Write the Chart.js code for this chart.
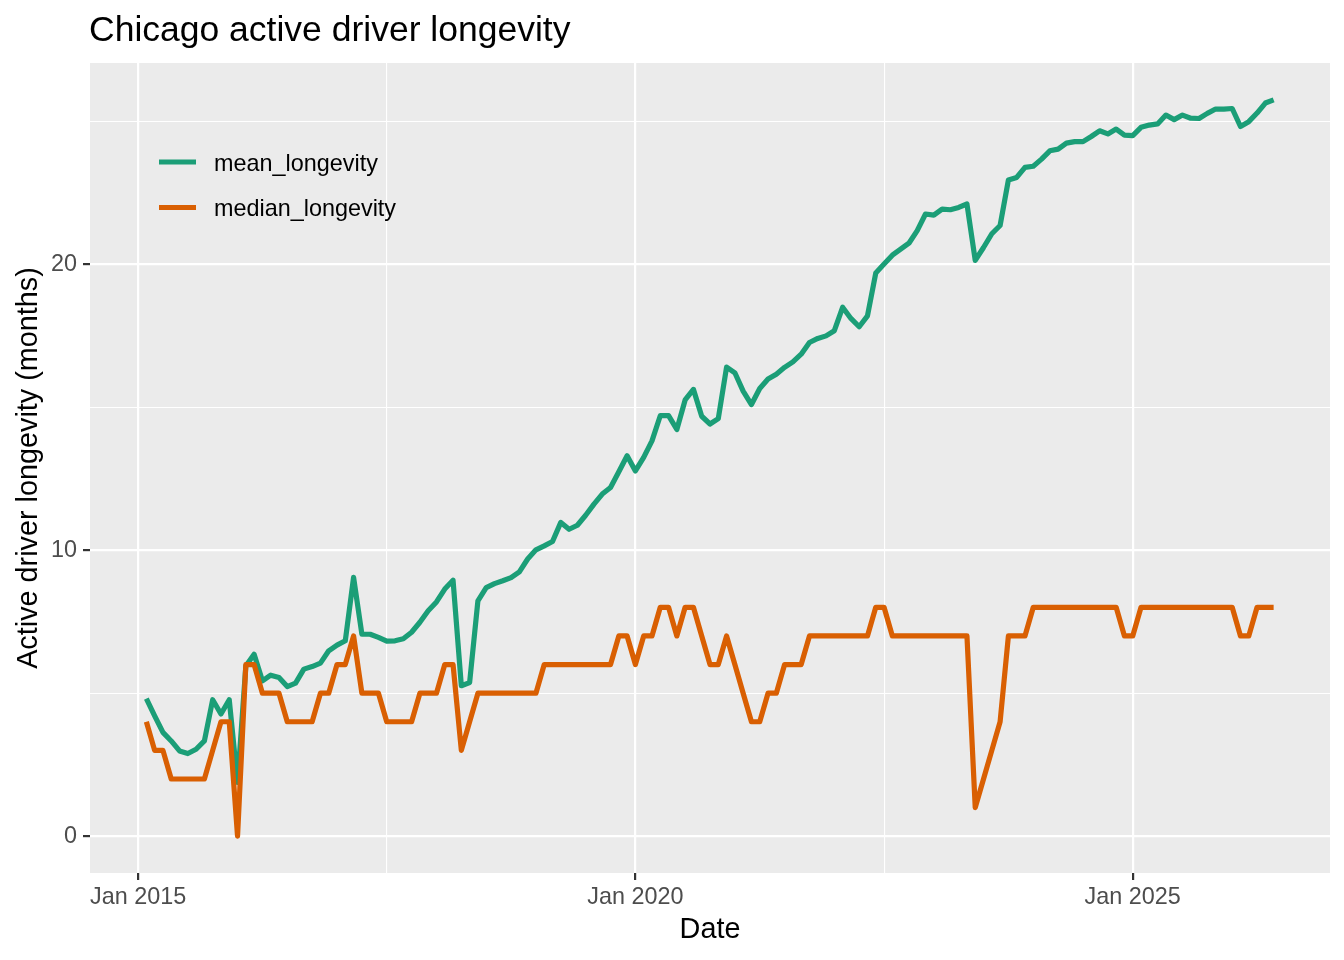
<!DOCTYPE html>
<html><head><meta charset="utf-8">
<script src="https://cdn.jsdelivr.net/npm/chart.js@4.4.1/dist/chart.umd.min.js"></script>
<style>html,body{margin:0;padding:0;background:#fff}#wrap{width:1344px;height:960px}</style>
</head><body><div id="wrap"><canvas id="c" width="1344" height="960"></canvas></div>
<script>
const titleText = 'Chicago active driver longevity';
const xTitle = 'Date';
const yTitle = 'Active driver longevity (months)';
const seriesNames = ['mean_longevity', 'median_longevity'];
const seriesColors = ['#1B9E77', '#D95F02'];
// first observation is Feb 2015 (1 month after Jan 2015), monthly afterwards
const firstMonthOffset = 1;
const meanLongevity = [
  4.81, 4.21, 3.63, 3.33, 2.98, 2.89, 3.04, 3.33, 4.77, 4.27, 4.77, 1.88,
  5.95, 6.36, 5.43, 5.63, 5.55, 5.23, 5.35, 5.84, 5.93, 6.05, 6.48, 6.68,
  6.83, 9.05, 7.06, 7.06, 6.95, 6.82, 6.83, 6.90, 7.13, 7.48, 7.88, 8.19,
  8.64, 8.95, 5.26, 5.37, 8.23, 8.69, 8.83, 8.93, 9.04, 9.24, 9.69, 10.01,
  10.15, 10.30, 10.97, 10.73, 10.87, 11.22, 11.61, 11.96, 12.19, 12.74, 13.30, 12.77,
  13.24, 13.82, 14.70, 14.70, 14.22, 15.25, 15.62, 14.68, 14.41, 14.60, 16.40, 16.20,
  15.56, 15.09, 15.65, 15.98, 16.15, 16.39, 16.58, 16.85, 17.26, 17.40, 17.49, 17.67,
  18.49, 18.10, 17.81, 18.19, 19.69, 20.00, 20.31, 20.52, 20.73, 21.17, 21.75, 21.71,
  21.92, 21.90, 21.98, 22.10, 20.13, 20.58, 21.06, 21.35, 22.94, 23.03, 23.38, 23.42,
  23.67, 23.96, 24.02, 24.23, 24.28, 24.28, 24.46, 24.66, 24.55, 24.72, 24.51, 24.49,
  24.78, 24.86, 24.90, 25.21, 25.05, 25.21, 25.10, 25.09, 25.27, 25.42, 25.42, 25.44,
  24.81, 24.98, 25.28, 25.63, 25.74
];
const medianLongevity = [
  4, 3, 3, 2, 2, 2, 2, 2, 3, 4, 4, 0,
  6, 6, 5, 5, 5, 4, 4, 4, 4, 5, 5, 6,
  6, 7, 5, 5, 5, 4, 4, 4, 4, 5, 5, 5,
  6, 6, 3, 4, 5, 5, 5, 5, 5, 5, 5, 5,
  6, 6, 6, 6, 6, 6, 6, 6, 6, 7, 7, 6,
  7, 7, 8, 8, 7, 8, 8, 7, 6, 6, 7, 6,
  5, 4, 4, 5, 5, 6, 6, 6, 7, 7, 7, 7,
  7, 7, 7, 7, 8, 8, 7, 7, 7, 7, 7, 7,
  7, 7, 7, 7, 1, 2, 3, 4, 7, 7, 7, 8,
  8, 8, 8, 8, 8, 8, 8, 8, 8, 8, 7, 7,
  8, 8, 8, 8, 8, 8, 8, 8, 8, 8, 8, 8,
  7, 7, 8, 8, 8
];
const xTickMonths = [0, 30, 60, 90, 120];
const xTickLabels = { 0: 'Jan 2015', 60: 'Jan 2020', 120: 'Jan 2025' };
const yTickValues = [0, 5, 10, 15, 20, 25];
const yTickLabels = { 0: '0', 10: '10', 20: '20' };

const FONT = '"Liberation Sans", Arial, sans-serif';
Chart.defaults.font.family = FONT;

function toPoints(arr) {
  return arr.map((v, i) => ({ x: firstMonthOffset + i, y: v }));
}

const panelPlugin = {
  id: 'panel',
  beforeDraw(chart) {
    const { ctx, chartArea: a } = chart;
    ctx.save();
    ctx.fillStyle = '#FFFFFF';
    ctx.fillRect(0, 0, chart.width, chart.height);
    ctx.fillStyle = '#EBEBEB';
    ctx.fillRect(a.left, a.top, a.right - a.left, a.bottom - a.top);
    ctx.restore();
  },
  afterDraw(chart) {
    const { ctx, chartArea: a } = chart;
    ctx.save();
    ctx.fillStyle = '#000000';
    ctx.font = '35.5px ' + FONT;
    ctx.textBaseline = 'alphabetic';
    ctx.textAlign = 'left';
    ctx.fillText(titleText, a.left - 1, 41);
    // legend inside panel
    const ds = chart.data.datasets;
    ctx.font = '23.4px ' + FONT;
    const rowY = [162, 207.5];
    ds.forEach((d, i) => {
      ctx.strokeStyle = d.borderColor;
      ctx.lineWidth = 5.2;
      ctx.beginPath();
      ctx.moveTo(a.left + 69, rowY[i]);
      ctx.lineTo(a.left + 106, rowY[i]);
      ctx.stroke();
      ctx.fillStyle = '#000000';
      ctx.fillText(d.label, a.left + 124, rowY[i] + 8.7);
    });
    ctx.restore();
  }
};

new Chart(document.getElementById('c'), {
  type: 'line',
  data: {
    datasets: [
      { label: seriesNames[0], data: toPoints(meanLongevity), borderColor: seriesColors[0],
        borderWidth: 5.2, pointRadius: 0, tension: 0, order: 2, borderJoinStyle: 'round', borderCapStyle: 'butt' },
      { label: seriesNames[1], data: toPoints(medianLongevity), borderColor: seriesColors[1],
        borderWidth: 5.2, pointRadius: 0, tension: 0, order: 1, borderJoinStyle: 'round', borderCapStyle: 'butt' }
    ]
  },
  options: {
    responsive: false,
    devicePixelRatio: 1,
    animation: false,
    events: [],
    layout: { padding: { top: 63, right: 14, left: 0, bottom: 0 } },
    plugins: { legend: { display: false }, title: { display: false }, tooltip: { enabled: false } },
    scales: {
      x: {
        type: 'linear',
        min: -5.8,
        max: 143.8,
        afterBuildTicks(s) { s.ticks = xTickMonths.map(v => ({ value: v })); },
        afterFit(s) { s.height = 87; },
        ticks: {
          autoSkip: false, maxRotation: 0, minRotation: 0,
          callback: v => (xTickLabels[v] !== undefined ? xTickLabels[v] : ''),
          font: { size: 23.4, family: FONT }, color: '#4D4D4D', padding: 3.5
        },
        grid: {
          color: '#FFFFFF',
          lineWidth: c => (c.tick && c.tick.value % 60 === 0 ? 2.2 : 1.1),
          tickColor: c => (c.tick && c.tick.value % 60 === 0 ? '#333333' : 'rgba(0,0,0,0)'),
          tickLength: 7, tickWidth: 2.2, drawTicks: true
        },
        border: { display: false },
        title: { display: true, text: xTitle, color: '#000000', font: { size: 28.8, family: FONT }, padding: { top: 0, bottom: 12.5 } }
      },
      y: {
        type: 'linear',
        min: -1.287,
        max: 27.03,
        afterBuildTicks(s) { s.ticks = yTickValues.map(v => ({ value: v })); },
        afterFit(s) { s.width = 90; },
        ticks: {
          autoSkip: false,
          callback: v => (yTickLabels[v] !== undefined ? yTickLabels[v] : ''),
          font: { size: 23.4, family: FONT }, color: '#4D4D4D', padding: 6
        },
        grid: {
          color: '#FFFFFF',
          lineWidth: c => (c.tick && c.tick.value % 10 === 0 ? 2.2 : 1.1),
          tickColor: c => (c.tick && c.tick.value % 10 === 0 ? '#333333' : 'rgba(0,0,0,0)'),
          tickLength: 7, tickWidth: 2.2, drawTicks: true
        },
        border: { display: false },
        title: { display: true, text: yTitle, color: '#000000', font: { size: 28.8, family: FONT }, padding: { top: 12, bottom: 0 } }
      }
    }
  },
  plugins: [panelPlugin]
});
</script>
</body></html>
